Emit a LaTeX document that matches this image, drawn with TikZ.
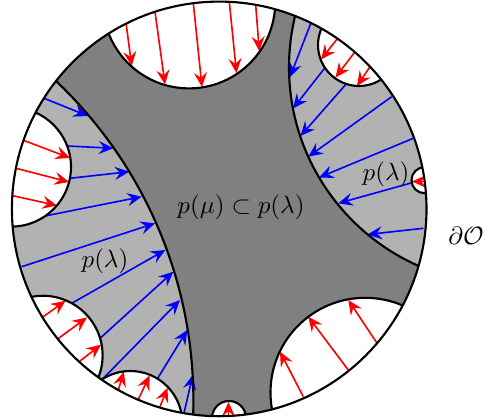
\documentclass[tikz,border=0pt]{standalone}
\usetikzlibrary{arrows.meta}
\begin{document}
\begin{tikzpicture}[x=0.4pt,y=-0.4pt,
  bd/.style={line width=0.85pt},
  tipst/.style={-{Stealth[length=5.8pt,width=5.2pt,inset=2.1pt]}},
  ra/.style={tipst,red,line width=0.65pt},
  ba/.style={tipst,blue,line width=0.65pt},
  lbl/.style={inner sep=0pt}]
\useasboundingbox (0,0) rectangle (485,418);
\def\disk{(219.2,208.9) circle[radius=207.3]}
% regions
\fill[black!50] \disk;
\begin{scope}
  \clip \disk;
  \fill[black!30] (-247.8,400.9) circle[radius=441.2];
  \fill[black!30] (506.1,67.2) circle[radius=217.1];
  % blue arrows (left band)
  \draw[ba] (43.3,98) -- (88,116);
  \draw[ba] (64,145.8) -- (113.3,148.3);
  \draw[ba] (67,178.6) -- (129.3,171.7);
  \draw[ba] (40,217) -- (141.7,196.7);
  \draw[ba] (21.7,266.7) -- (155,223.3);
  \draw[ba] (67,306) -- (165.3,250);
  \draw[ba] (96,342) -- (173.3,271.7);
  \draw[ba] (100,381.7) -- (180,300);
  \draw[ba] (156,381) -- (187.3,330);
  \draw[ba] (184,413) -- (192.8,375);
  % blue arrows (right band)
  \draw[ba] (310.7,23.5) -- (290,77);
  \draw[ba] (327.7,64.3) -- (293,108.5);
  \draw[ba] (347.5,82.5) -- (300.5,136);
  \draw[ba] (391.7,96.7) -- (308.3,156.7);
  \draw[ba] (413.3,138.3) -- (319,177.5);
  \draw[ba] (413.6,182.3) -- (338.3,203.3);
  \draw[ba] (423.3,228.3) -- (367.5,234.5);
  % white regions
  \fill[white] (189,2.2) circle[radius=86.2];
  \fill[white] (359,45) circle[radius=41];
  \fill[white] (424.5,180.2) circle[radius=13];
  \fill[white] (11.4,167) circle[radius=59.6];
  \fill[white] (43,355.4) circle[radius=59.6];
  \fill[white] (130.3,423) circle[radius=52];
  \fill[white] (229,418) circle[radius=17];
  \fill[white] (365.2,392.5) circle[radius=94.7];
  % red arrows
  \draw[ra] (126,22.7) -- (131.7,66);
  \draw[ra] (155,11.7) -- (165,84.5);
  \draw[ra] (193.3,3.3) -- (202,87);
  \draw[ra] (229.3,1.7) -- (236.5,73);
  \draw[ra] (255.7,5) -- (259.3,51);
  \draw[ra] (337.7,38.3) -- (321,59.5);
  \draw[ra] (355,51.7) -- (335.5,77.5);
  \draw[ra] (370,66.7) -- (357,86);
  \draw[ra] (427,181.5) -- (412,181.5);
  \draw[ra] (22.7,140) -- (70,158);
  \draw[ra] (16,168.3) -- (69,182);
  \draw[ra] (12.7,195.7) -- (57,205.5);
  \draw[ra] (43.3,316.7) -- (65.5,300.8);
  \draw[ra] (58.3,338.5) -- (87,317.5);
  \draw[ra] (80,361) -- (101,344.7);
  \draw[ra] (118.3,390) -- (123.8,371.8);
  \draw[ra] (138.3,399.5) -- (149.6,375.5);
  \draw[ra] (160,406.7) -- (167.5,387.8);
  \draw[ra] (228.5,417) -- (228.5,402);
  \draw[ra] (303.3,396.7) -- (280,351.7);
  \draw[ra] (348.3,370) -- (308.3,316.7);
  \draw[ra] (376.7,342.7) -- (348.3,300);
  % outlines
  \draw[bd] (-247.8,400.9) circle[radius=441.2];
  \draw[bd] (506.1,67.2) circle[radius=217.1];
  \draw[bd] (189,2.2) circle[radius=86.2];
  \draw[bd] (359,45) circle[radius=41];
  \draw[bd] (424.5,180.2) circle[radius=13];
  \draw[bd] (11.4,167) circle[radius=59.6];
  \draw[bd] (43,355.4) circle[radius=59.6];
  \draw[bd] (130.3,423) circle[radius=52];
  \draw[bd] (229,418) circle[radius=17];
  \draw[bd] (365.2,392.5) circle[radius=94.7];
\end{scope}
\draw[bd] \disk;
% labels
\node[lbl] (mu) at (241,207) {$p(\mu)\subset p(\lambda)$};
\node[lbl] (laml) at (105,261) {$p(\lambda)$};
\node[lbl] (lamr) at (386,174) {$p(\lambda)$};
\node[lbl] (bdry) at (466,236) {$\partial\mathcal{O}$};
\end{tikzpicture}
\end{document}
